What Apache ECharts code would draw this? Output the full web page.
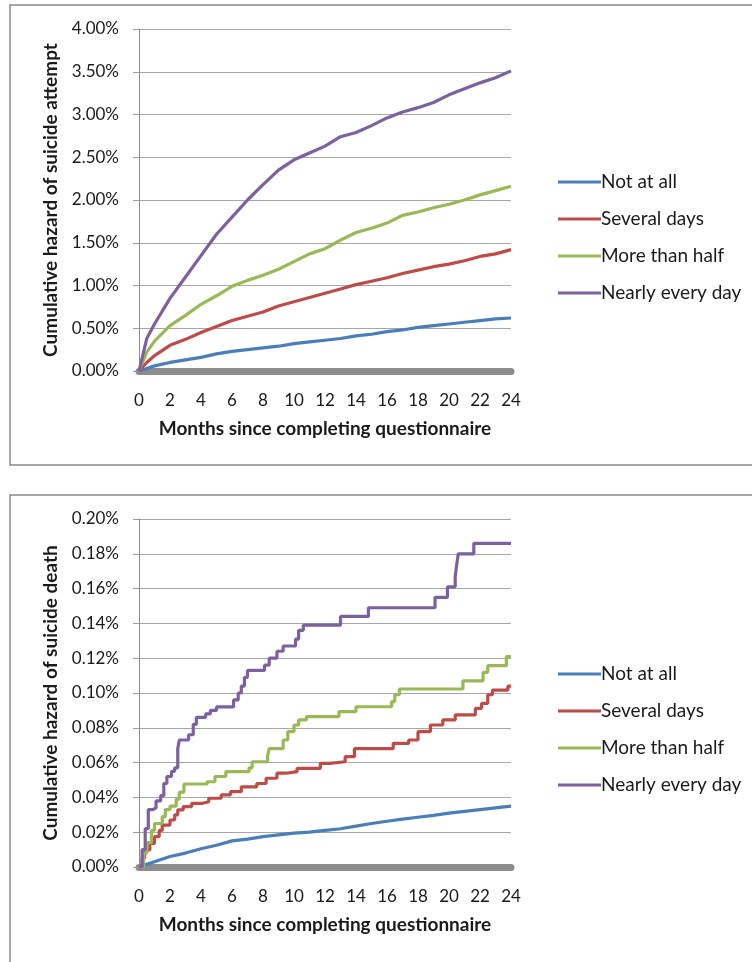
<!DOCTYPE html>
<html>
<head>
<meta charset="utf-8">
<script src="https://cdn.jsdelivr.net/npm/echarts@6/dist/echarts.min.js"></script>
<style>
html,body{margin:0;padding:0;background:#fff;}
#c{width:752px;height:962px;}
</style>
</head>
<body>
<div id="c"></div>
<script>
// ---------- DATA ----------
var legendNames = ['Not at all', 'Several days', 'More than half', 'Nearly every day'];
var xTicks = [0,2,4,6,8,10,12,14,16,18,20,22,24];

// Top chart: cumulative hazard of suicide attempt (%)
var topMonths = [0,0.5,1,2,3,4,5,6,7,8,9,10,11,12,13,14,15,16,17,18,19,20,21,22,23,24];
var topNotAtAll   = [0,0.03,0.06,0.10,0.13,0.16,0.20,0.23,0.25,0.27,0.29,0.32,0.34,0.36,0.38,0.41,0.43,0.46,0.48,0.51,0.53,0.55,0.57,0.59,0.61,0.62];
var topSeveral    = [0,0.10,0.18,0.30,0.37,0.45,0.52,0.59,0.64,0.69,0.76,0.81,0.86,0.91,0.96,1.01,1.05,1.09,1.14,1.18,1.22,1.25,1.29,1.34,1.37,1.42];
var topMoreHalf   = [0,0.22,0.35,0.53,0.65,0.78,0.88,0.99,1.06,1.12,1.19,1.28,1.37,1.43,1.53,1.62,1.67,1.73,1.82,1.86,1.91,1.95,2.00,2.06,2.11,2.16];
var topNearly     = [0,0.38,0.55,0.85,1.10,1.35,1.60,1.80,2.00,2.18,2.35,2.47,2.55,2.63,2.74,2.79,2.87,2.96,3.03,3.08,3.14,3.23,3.30,3.37,3.43,3.51];

// Bottom chart: cumulative hazard of suicide death (%)
var botBlueMonths = [0,0.5,1,2,3,4,5,6,7,8,9,10,11,12,13,14,15,16,17,18,19,20,21,22,23,24];
var botNotAtAll   = [0,0.0015,0.003,0.006,0.008,0.0105,0.0125,0.015,0.016,0.0175,0.0185,0.0195,0.020,0.021,0.022,0.0235,0.025,0.0263,0.0275,0.0286,0.0297,0.031,0.032,0.033,0.034,0.035];

var botRedMonths  = [0,0.2,0.36,0.7,1.0,1.3,1.5,2.0,2.3,2.5,2.85,3.4,4.1,4.5,5.3,5.9,6.6,7.6,8.2,8.9,9.5,10.2,11.7,12.3,13.3,13.9,16.4,17.4,18.0,18.8,19.6,20.4,21.7,22.1,22.5,22.8,23.8,24];
var botSeveral    = [0,0.005,0.0098,0.0136,0.0174,0.021,0.0241,0.027,0.030,0.0328,0.0347,0.0366,0.0375,0.0395,0.0414,0.0433,0.0461,0.048,0.051,0.0539,0.0548,0.0567,0.0596,0.0605,0.0634,0.068,0.0711,0.073,0.0778,0.0816,0.0845,0.0874,0.0912,0.094,0.099,0.1017,0.104,0.104];

var botGreenMonths = [0,0.3,0.5,0.8,1.0,1.5,1.7,2.0,2.4,2.6,2.9,4.4,4.9,5.6,7.1,7.3,8.3,8.4,9.3,9.6,10.0,10.3,10.8,12.9,14.0,16.3,16.5,16.8,20.9,22.2,22.5,23.7,24];
var botMoreHalf    = [0,0.008,0.014,0.021,0.025,0.029,0.033,0.035,0.039,0.043,0.0477,0.049,0.052,0.0548,0.057,0.0605,0.064,0.068,0.073,0.0778,0.0816,0.0845,0.0864,0.0893,0.0921,0.095,0.099,0.1023,0.107,0.1119,0.1157,0.1209,0.1209];

var botPurpleMonths = [0,0.2,0.4,0.6,0.9,1.1,1.4,1.6,1.8,2.1,2.3,2.5,2.6,3.2,3.5,3.7,4.3,4.6,5.0,6.1,6.4,6.6,6.8,7.0,8.1,8.4,8.9,9.3,10.1,10.3,10.6,13.0,14.8,19.1,19.9,20.4,20.5,20.6,21.6,24];
var botNearly       = [0,0.010,0.022,0.033,0.034,0.038,0.041,0.048,0.052,0.055,0.057,0.068,0.073,0.076,0.082,0.086,0.088,0.090,0.092,0.096,0.100,0.104,0.109,0.113,0.116,0.120,0.124,0.127,0.131,0.136,0.139,0.144,0.149,0.155,0.161,0.167,0.174,0.180,0.186,0.186];

// ---------- HELPERS ----------
function pairs(xs, ys){ return xs.map(function(x,i){ return [x, ys[i]]; }); }
var colors = ['#4a7ebb', '#be4b48', '#98b954', '#7d60a0'];
var FONT = 'Lato, "Open Sans", sans-serif';
var txt = '#1a1a1a';

function xAxisCfg(gridIndex){
  return {
    type:'value', gridIndex:gridIndex, min:0, max:24, interval:2,
    offset:5,
    axisLine:{show:true, lineStyle:{color:'#8c8c8c', width:7}},
    axisTick:{show:false},
    splitLine:{show:false},
    axisLabel:{color:txt, fontFamily:FONT, fontSize:17, margin:16},
    name:'Months since completing questionnaire',
    nameLocation:'middle', nameGap:43,
    nameTextStyle:{color:txt, fontFamily:FONT, fontSize:19, fontWeight:'bold'}
  };
}
function yAxisCfg(gridIndex, max, interval, name){
  return {
    type:'value', gridIndex:gridIndex, min:0, max:max, interval:interval,
    axisLine:{show:true, lineStyle:{color:'#8c8c8c', width:1}},
    axisTick:{show:true, length:6, lineStyle:{color:'#9a9a9a'}},
    splitLine:{show:true, lineStyle:{color:'#a6a6a6', width:1}},
    axisLabel:{color:txt, fontFamily:FONT, fontSize:17, margin:20,
      formatter:function(v){ return v.toFixed(2)+'%'; }},
    name:name, nameLocation:'middle', nameGap:79, nameRotate:90,
    nameTextStyle:{color:txt, fontFamily:FONT, fontSize:19, fontWeight:'bold'}
  };
}
function lineSeries(name, idx, data, gridIdx, step){
  var s = {
    name:name, type:'line', xAxisIndex:gridIdx, yAxisIndex:gridIdx,
    data:data, showSymbol:false, symbol:'none',
    lineStyle:{color:colors[idx], width:3.2},
    itemStyle:{color:colors[idx]},
    animation:false, z: 3
  };
  if (step) s.step = 'end';
  return s;
}
function legendCfg(top){
  return {
    orient:'vertical', left:553, top:top, itemGap:17,
    itemWidth:43, itemHeight:3, icon:'rect',
    data:legendNames,
    textStyle:{color:txt, fontFamily:FONT, fontSize:19, lineHeight:20, padding:[0,0,0,-5]}
  };
}

var chart = echarts.init(document.getElementById('c'), null, {renderer:'canvas'});
chart.setOption({
  backgroundColor:'#fff',
  animation:false,
  graphic:[
    {type:'rect', shape:{x:10, y:5, width:760, height:460}, style:{fill:'none', stroke:'#8a8a8a', lineWidth:1.5}, z:-1},
    {type:'rect', shape:{x:10, y:495, width:760, height:480}, style:{fill:'none', stroke:'#8a8a8a', lineWidth:1.5}, z:-1}
  ],
  legend:[legendCfg(167), legendCfg(659)],
  grid:[
    {left:139, top:29, width:372, height:342},
    {left:139, top:519, width:372, height:348}
  ],
  xAxis:[xAxisCfg(0), xAxisCfg(1)],
  yAxis:[
    yAxisCfg(0, 4, 0.5, 'Cumulative hazard of suicide attempt'),
    yAxisCfg(1, 0.2, 0.02, 'Cumulative hazard of suicide death')
  ],
  series:[
    lineSeries(legendNames[0], 0, pairs(topMonths, topNotAtAll), 0, false),
    lineSeries(legendNames[1], 1, pairs(topMonths, topSeveral), 0, false),
    lineSeries(legendNames[2], 2, pairs(topMonths, topMoreHalf), 0, false),
    lineSeries(legendNames[3], 3, pairs(topMonths, topNearly), 0, false),
    lineSeries(legendNames[0], 0, pairs(botBlueMonths, botNotAtAll), 1, false),
    lineSeries(legendNames[1], 1, pairs(botRedMonths, botSeveral), 1, true),
    lineSeries(legendNames[2], 2, pairs(botGreenMonths, botMoreHalf), 1, true),
    lineSeries(legendNames[3], 3, pairs(botPurpleMonths, botNearly), 1, true)
  ]
});
</script>
</body>
</html>
